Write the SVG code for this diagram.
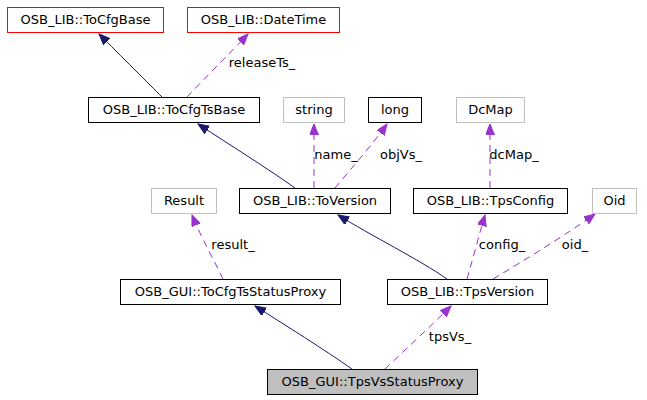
<svg xmlns="http://www.w3.org/2000/svg" width="647" height="400" viewBox="0 0 647 400">
<defs>
<style>
text{font-family:"DejaVu Sans","Liberation Sans",sans-serif;font-size:13px;fill:#000;text-anchor:middle}
.n rect{fill:#fff;stroke:#000;stroke-width:1}
.red rect{stroke:#ff0000}
.gray rect{stroke:#bfbfbf}
.cur rect{fill:#bfbfbf}
.inh{fill:none;stroke:#191970;stroke-width:1}
.use{fill:none;stroke:#9a32cd;stroke-width:1;stroke-dasharray:7,5}
</style>
<marker id="an" markerUnits="userSpaceOnUse" markerWidth="12" markerHeight="10" refX="11" refY="4.5" orient="auto"><path d="M0,0 L11,4.5 L0,9 z" fill="#191970" stroke="#191970"/></marker>
<marker id="ap" markerUnits="userSpaceOnUse" markerWidth="12" markerHeight="10" refX="11" refY="4.5" orient="auto"><path d="M0,0 L11,4.5 L0,9 z" fill="#9a32cd" stroke="#9a32cd"/></marker>
</defs>
<rect width="647" height="400" fill="#fff"/>
<g id="edges">
<path class="inh" d="M162,97 C150,85 120,55 99,34" marker-end="url(#an)"/>
<path class="use" d="M187,97 C205,78 230,53 248,34" marker-end="url(#ap)"/>
<path class="inh" d="M295,188 C270,170 230,145 198,124" marker-end="url(#an)"/>
<path class="use" d="M314,188 L314,124" marker-end="url(#ap)"/>
<path class="use" d="M335,188 C350,170 372,145 387,124" marker-end="url(#ap)"/>
<path class="use" d="M490,188 L490,124" marker-end="url(#ap)"/>
<path class="inh" d="M447,279 C420,260 370,235 338,215" marker-end="url(#an)"/>
<path class="use" d="M467,279 C472,262 479,235 485,215" marker-end="url(#ap)"/>
<path class="use" d="M493,279 C525,260 570,232 595,214" marker-end="url(#ap)"/>
<path class="use" d="M223,279 C215,262 200,235 192,215" marker-end="url(#ap)"/>
<path class="inh" d="M352,369 C325,350 285,325 255,306" marker-end="url(#an)"/>
<path class="use" d="M385,369 C405,350 432,325 451,306" marker-end="url(#ap)"/>
<text x="262" y="67">releaseTs_</text>
<text x="336" y="159">name_</text>
<text x="401" y="159">objVs_</text>
<text x="514" y="159">dcMap_</text>
<text x="502" y="249">config_</text>
<text x="575" y="249">oid_</text>
<text x="233" y="249">result_</text>
<text x="450" y="341">tpsVs_</text>
</g>
<g id="ToCfgBase" class="n red"><rect x="7.5" y="7.5" width="156" height="25"/><text x="85.5" y="24">OSB_LIB::ToCfgBase</text></g>
<g id="DateTime" class="n red"><rect x="187.5" y="7.5" width="152" height="25"/><text x="263.5" y="24">OSB_LIB::DateTime</text></g>
<g id="ToCfgTsBase" class="n"><rect x="88.5" y="97.5" width="171" height="25"/><text x="174" y="114">OSB_LIB::ToCfgTsBase</text></g>
<g id="string" class="n gray"><rect x="283.5" y="97.5" width="61" height="25"/><text x="314" y="114">string</text></g>
<g id="long" class="n"><rect x="368.5" y="97.5" width="53" height="25"/><text x="395" y="114">long</text></g>
<g id="DcMap" class="n gray"><rect x="456.5" y="97.5" width="68" height="25"/><text x="490.5" y="114">DcMap</text></g>
<g id="Result" class="n gray"><rect x="151.5" y="188.5" width="65" height="25"/><text x="184" y="205">Result</text></g>
<g id="ToVersion" class="n"><rect x="239.5" y="188.5" width="151" height="25"/><text x="315" y="205">OSB_LIB::ToVersion</text></g>
<g id="TpsConfig" class="n"><rect x="413.5" y="188.5" width="154" height="25"/><text x="490.5" y="205">OSB_LIB::TpsConfig</text></g>
<g id="Oid" class="n gray"><rect x="592.5" y="188.5" width="44" height="25"/><text x="614.5" y="205">Oid</text></g>
<g id="ToCfgTsStatusProxy" class="n"><rect x="120.5" y="279.5" width="220" height="25"/><text x="230.5" y="296">OSB_GUI::ToCfgTsStatusProxy</text></g>
<g id="TpsVersion" class="n"><rect x="387.5" y="279.5" width="160" height="25"/><text x="467.5" y="296">OSB_LIB::TpsVersion</text></g>
<g id="TpsVsStatusProxy" class="n cur"><rect x="267.5" y="369.5" width="210" height="25"/><text x="372.5" y="386">OSB_GUI::TpsVsStatusProxy</text></g>
</svg>
